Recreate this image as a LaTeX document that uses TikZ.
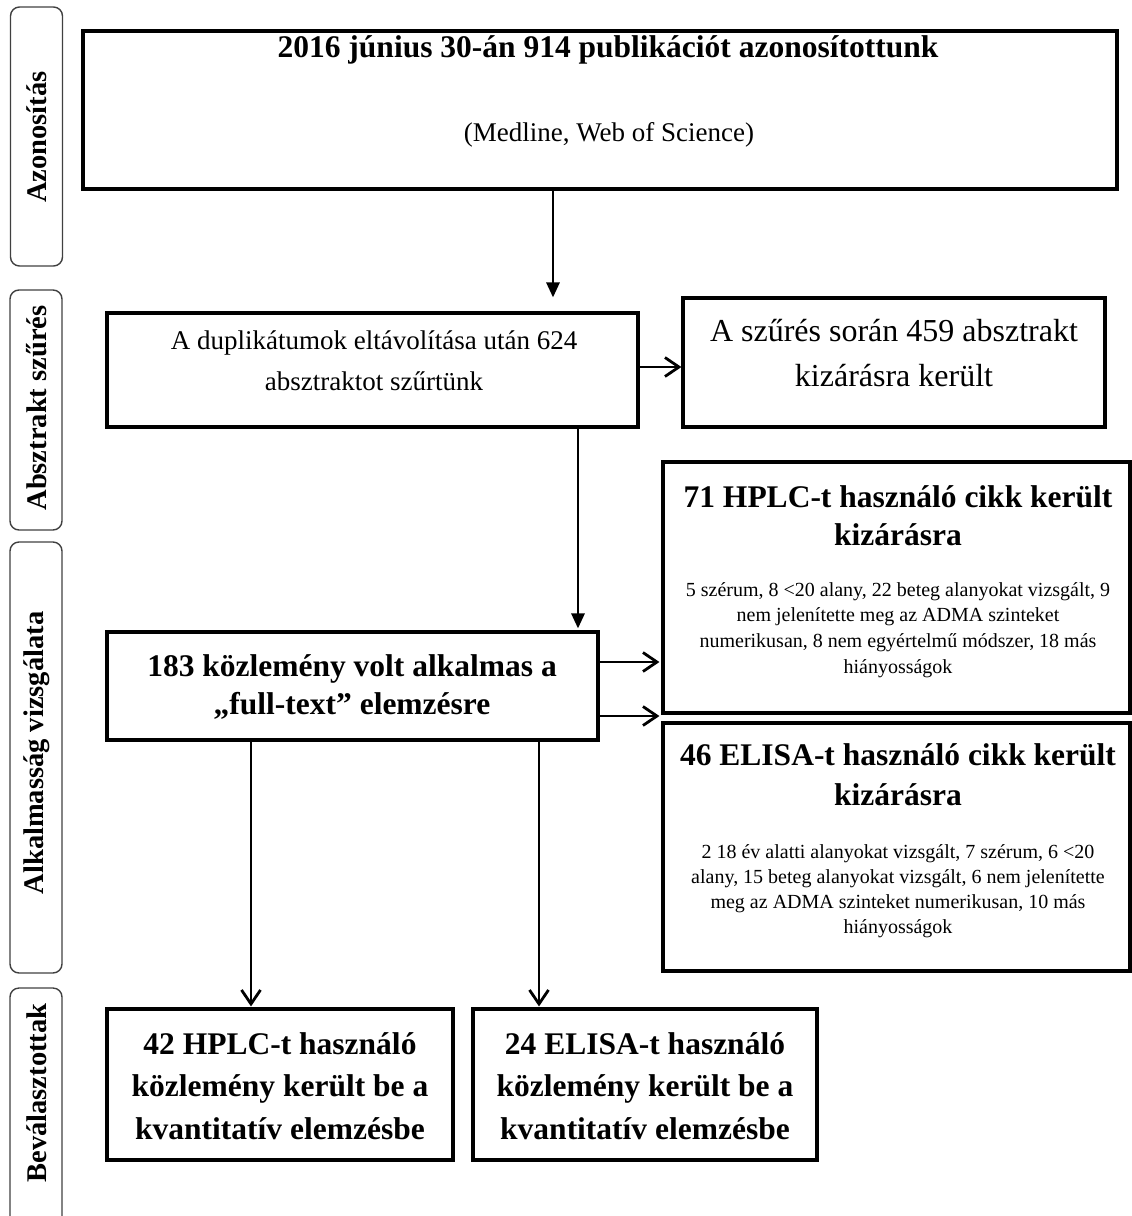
\documentclass[tikz,border=0pt]{standalone}
\usepackage{fontspec}
\setmainfont{Liberation Serif}
\usetikzlibrary{arrows.meta}
\begin{document}
\begin{tikzpicture}[x=1pt,y=-1pt,
  box/.style={draw, line width=3.1pt, inner sep=0pt},
  side/.style={draw=black!75, line width=1.4pt, rounded corners=9pt, inner sep=0pt, minimum width=52pt},
  sidetxt/.style={rotate=90, font=\fontsize{28.5}{30}\selectfont\bfseries, inner sep=0pt},
  bigb/.style={align=center, inner sep=0pt, font=\fontsize{31.5}{#1}\selectfont\bfseries},
  reg/.style={align=center, inner sep=0pt, font=\fontsize{27}{#1}\selectfont},
  small/.style={align=center, inner sep=0pt, font=\fontsize{20}{#1}\selectfont},
  fillarrow/.style={-{Triangle[length=15pt,width=13pt]}, line width=2.8pt},
  openarrow/.style={-{Straight Barb[length=14pt,width=19pt,line width=2.8pt]}, line width=2.8pt}
]
\useasboundingbox (0,0) rectangle (1132,1216);
\begin{scope}
\clip (0,0) rectangle (1132,1216);
% side bars
\node[side, minimum height=259pt] (s1) at (36.5,136.5) {};
\node[side, minimum height=240pt] (s2) at (36,410) {};
\node[side, minimum height=431pt] (s3) at (36,757.5) {};
\node[side, minimum height=244pt] (s4) at (36,1110) {};
\node[sidetxt] (t1) at (37,137) {Azonosítás};
\node[sidetxt] (t2) at (37,408) {Absztrakt szűrés};
\node[sidetxt] (t3) at (37,753) {Alkalmasság vizsgálata};
\node[sidetxt] (t4) at (37,1093) {Beválasztottak};

% boxes
\node[box, minimum width=1034pt, minimum height=158pt] (top) at (600,110) {};
\node[box, minimum width=531pt, minimum height=114pt] (b2) at (372.5,370) {};
\node[box, minimum width=422pt, minimum height=129pt] (b3) at (894,362.5) {};
\node[box, minimum width=467pt, minimum height=251pt] (hplc) at (896.5,587.5) {};
\node[box, minimum width=467pt, minimum height=248pt] (elisa) at (896.5,847) {};
\node[box, minimum width=491pt, minimum height=108pt] (b4) at (352.5,686) {};
\node[box, minimum width=346pt, minimum height=151pt] (bl) at (280,1084.5) {};
\node[box, minimum width=344pt, minimum height=151pt] (br) at (645,1084.5) {};

% texts
\node[bigb=36] (toptitle) at (608,50) {2016 június 30-án 914 publikációt azonosítottunk};
\node[reg=30] (topsub) at (609,134.5) {(Medline, Web of Science)};
\node[reg=41] (b2t) at (374,361) {A duplikátumok eltávolítása után 624\\absztraktot szűrtünk};
\node[font=\fontsize{32}{45}\selectfont, align=center, inner sep=0pt] (b3t) at (894,353) {A szűrés során 459 absztrakt\\kizárásra került};
\node[bigb=38] (hplct) at (898,516) {71 HPLC-t használó cikk került\\kizárásra};
\node[small=25.7] (hplcs) at (898,630) {5 szérum, 8 <20 alany, 22 beteg alanyokat vizsgált, 9\\nem jelenítette meg az ADMA szinteket\\numerikusan, 8 nem egyértelmű módszer, 18 más\\hiányosságok};
\node[bigb=40] (elisat) at (898,775) {46 ELISA-t használó cikk került\\kizárásra};
\node[small=25] (elisas) at (898,891.5) {2 18 év alatti alanyokat vizsgált, 7 szérum, 6 <20\\alany, 15 beteg alanyokat vizsgált, 6 nem jelenítette\\meg az ADMA szinteket numerikusan, 10 más\\hiányosságok};
\node[bigb=38] (b4t) at (352,687) {183 közlemény volt alkalmas a\\„full-text” elemzésre};
\node[bigb=42.5] (blt) at (280,1086) {42 HPLC-t használó\\közlemény került be a\\kvantitatív elemzésbe};
\node[bigb=42.5] (brt) at (645,1086) {24 ELISA-t használó\\közlemény került be a\\kvantitatív elemzésbe};

% connectors
\coordinate (c1) at (553,0);
\coordinate (c2) at (578,0);
\coordinate (c3) at (251,0);
\coordinate (c4) at (539,0);
\coordinate (h1) at (0,662);
\coordinate (h2) at (0,716);
\coordinate (h3) at (0,367);
\draw[fillarrow, shorten >=14pt] (top.south -| c1) -- (b2.north -| c1);
\draw[openarrow] (b2.east |- h3) -- (b3.west |- h3);
\draw[fillarrow, shorten >=2pt] (b2.south -| c2) -- (b4.north -| c2);
\draw[openarrow, shorten >=2pt] (b4.east |- h1) -- (hplc.west |- h1);
\draw[openarrow, shorten >=2pt] (b4.east |- h2) -- (elisa.west |- h2);
\draw[openarrow, shorten >=1pt] (b4.south -| c3) -- (bl.north -| c3);
\draw[openarrow, shorten >=1pt] (b4.south -| c4) -- (br.north -| c4);
\end{scope}
\end{tikzpicture}
\end{document}
